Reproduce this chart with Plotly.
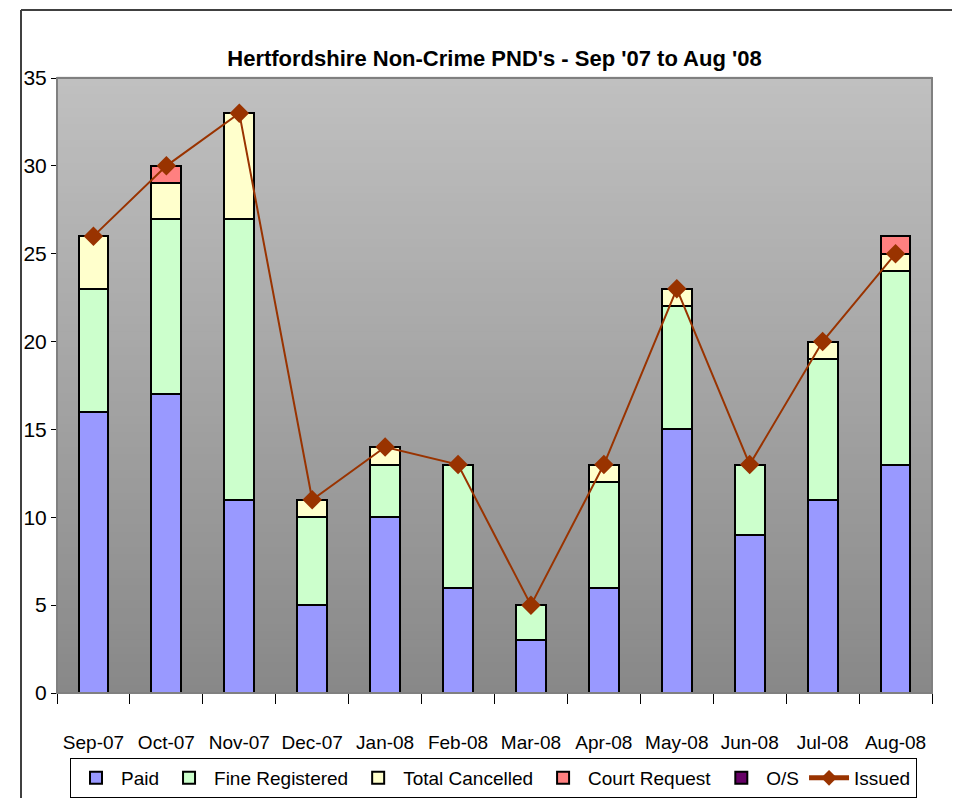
import plotly.graph_objects as go

months = ["Sep-07", "Oct-07", "Nov-07", "Dec-07", "Jan-08", "Feb-08",
          "Mar-08", "Apr-08", "May-08", "Jun-08", "Jul-08", "Aug-08"]
paid = [16, 17, 11, 5, 10, 6, 3, 6, 15, 9, 11, 13]
fine_registered = [7, 10, 16, 5, 3, 7, 2, 6, 7, 4, 8, 11]
total_cancelled = [3, 2, 6, 1, 1, 0, 0, 1, 1, 0, 1, 1]
court_request = [0, 1, 0, 0, 0, 0, 0, 0, 0, 0, 0, 1]
outstanding = [0, 0, 0, 0, 0, 0, 0, 0, 0, 0, 0, 0]
issued = [26, 30, 33, 11, 14, 13, 5, 13, 23, 13, 20, 25]
y_ticks = [0, 5, 10, 15, 20, 25, 30, 35]

FONT = "Liberation Sans Narrow, Arial Narrow, Liberation Sans, Arial, sans-serif"

fig = go.Figure()
bar_series = [
    ("Paid", paid, "#9999FF"),
    ("Fine Registered", fine_registered, "#CCFFCC"),
    ("Total Cancelled", total_cancelled, "#FFFFCC"),
    ("Court Request", court_request, "#FF8080"),
    ("O/S", outstanding, "#660066"),
]
for name, vals, col in bar_series:
    fig.add_trace(go.Bar(
        x=months, y=vals, name=name, width=0.41,
        marker=dict(color=col, line=dict(color="black", width=2)),
    ))

fig.add_trace(go.Scatter(
    x=months, y=issued, name="Issued", mode="lines+markers",
    line=dict(color="#993300", width=2),
    marker=dict(symbol="diamond", size=15, color="#993300"),
))

# page offset of the plot div (default body margin)
OFF = 8
# plot geometry (pixels, in figure coordinates)
W, H = 960 - OFF, 798 - OFF
L, T = 57 - OFF, 78 - OFF
R = W - (932 - OFF)
B = H - (693 - OFF)
pw, ph = W - L - R, H - T - B

# gradient background stripes
shapes = []
n = 80
top_c, bot_c = 192, 136
for i in range(n):
    f0, f1 = i / n, (i + 1) / n
    c = round(bot_c + (top_c - bot_c) * (f0 + f1) / 2)
    shapes.append(dict(type="rect", xref="paper", yref="paper",
                       x0=0, x1=1, y0=f0, y1=f1 + 0.002, layer="below",
                       line=dict(width=0), fillcolor=f"rgb({c},{c},{c})"))
# plot area border (top/right)
shapes.append(dict(type="rect", xref="paper", yref="paper", x0=0, x1=1, y0=0, y1=1,
                   line=dict(color="#808080", width=2), layer="above"))
# outer chart border
ox = (21 - OFF - L) / pw
oy = (H - B - (10 - OFF)) / ph
shapes.append(dict(type="line", xref="paper", yref="paper", x0=ox, x1=1.2, y0=oy, y1=oy,
                   line=dict(color="#404040", width=2)))
shapes.append(dict(type="line", xref="paper", yref="paper", x0=ox, x1=ox, y0=oy, y1=-0.3,
                   line=dict(color="#404040", width=2)))

fig.update_layout(
    width=W, height=H,
    margin=dict(l=L, r=R, t=T, b=B, autoexpand=False),
    barmode="stack",
    paper_bgcolor="white",
    plot_bgcolor="rgba(0,0,0,0)",
    font=dict(family=FONT, size=18, color="black"),
    title=dict(text="<b>Hertfordshire Non-Crime PND's - Sep '07 to Aug '08</b>",
               x=0.5, xref="paper", xanchor="center", y=1 - (58 - OFF) / H, yanchor="middle",
               font=dict(family=FONT, size=22, color="black")),
    shapes=shapes,
    showlegend=True,
    legend=dict(orientation="h", x=((80 + 907) / 2 - 57) / pw,
                xanchor="center", y=(693 - 758) / ph, yanchor="top",
                bordercolor="black", borderwidth=1, bgcolor="white",
                font=dict(family=FONT, size=19), traceorder="normal",
                itemsizing="constant", itemwidth=40),
    xaxis=dict(type="category", showgrid=False, showline=True, linecolor="black", linewidth=1,
               ticks="outside", tickson="boundaries", ticklen=10, tickcolor="black",
               tickangle=0, ticklabelstandoff=32, tickfont=dict(family=FONT, size=19),
               range=[-0.5, 11.5]),
    yaxis=dict(range=[0, 35], tickvals=y_ticks, showgrid=False, zeroline=False,
               showline=True, linecolor="black", linewidth=1,
               ticks="outside", ticklen=5, tickcolor="black",
               tickfont=dict(family=FONT, size=21)),
)

fig.write_html("out.html")
